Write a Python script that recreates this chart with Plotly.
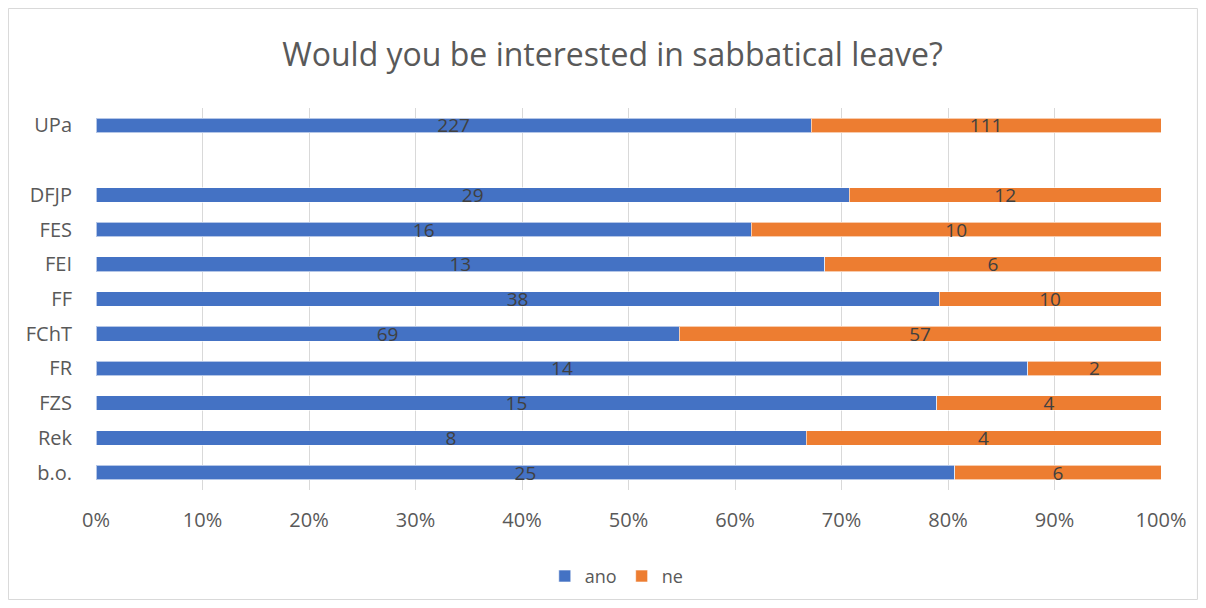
import plotly.graph_objects as go

# categories top to bottom, blank row between UPa and the faculties
categories = ["UPa", " ", "DFJP", "FES", "FEI", "FF", "FChT", "FR", "FZS", "Rek", "b.o."]
ano = [227, None, 29, 16, 13, 38, 69, 14, 15, 8, 25]
ne = [111, None, 12, 10, 6, 10, 57, 2, 4, 4, 6]
x_ticks = [0, 10, 20, 30, 40, 50, 60, 70, 80, 90, 100]

FONT = "Open Sans"

fig = go.Figure()

for name, vals, color in [("ano", ano, "#4472C4"), ("ne", ne, "#ED7D31")]:
    fig.add_trace(go.Bar(
        y=categories,
        x=vals,
        name=name,
        orientation="h",
        marker=dict(color=color, line=dict(color="rgba(255,255,255,0.6)", width=1)),
        text=["" if v is None else str(v) for v in vals],
        textposition="inside",
        insidetextanchor="middle",
        textfont=dict(family=FONT, size=19, color="#404040"),
        textangle=0,
        constraintext="none",
        hoverinfo="skip",
    ))

# page body has an 8px margin, so the figure is a bit smaller than the window
fig.update_layout(
    barmode="stack",
    barnorm="percent",
    bargap=0.58,
    width=1190,
    height=592,
    paper_bgcolor="white",
    plot_bgcolor="white",
    margin=dict(l=88, r=37, t=100, b=110, autoexpand=False),
    title=dict(
        text="Would you be interested in sabbatical leave?",
        x=0.508, xanchor="center", y=0.921, yanchor="middle",
        font=dict(family=FONT, size=32, color="#595959"),
    ),
    font=dict(family=FONT, color="#595959"),
    legend=dict(
        orientation="h", x=0.489, xanchor="center",
        yref="container", y=0.040, yanchor="middle",
        font=dict(family=FONT, size=18, color="#595959"),
        traceorder="normal",
        itemwidth=30,
    ),
    uniformtext=dict(minsize=10, mode="show"),
    shapes=[dict(
        type="rect", xref="paper", yref="paper",
        x0=-0.0822, x1=1.0342, y0=-0.2867, y1=1.2605,
        line=dict(color="#d9d9d9", width=1), fillcolor="rgba(0,0,0,0)",
        layer="below",
    )],
)

fig.update_xaxes(
    range=[0, 100],
    tickvals=x_ticks,
    ticktext=[f"{t}%" for t in x_ticks],
    showgrid=True,
    gridcolor="#d9d9d9",
    gridwidth=1,
    zeroline=False,
    ticks="outside",
    ticklen=12,
    tickcolor="rgba(0,0,0,0)",
    tickfont=dict(family=FONT, size=20, color="#595959"),
    showline=False,
)

fig.update_yaxes(
    categoryorder="array",
    categoryarray=categories,
    autorange="reversed",
    showgrid=False,
    ticks="outside",
    ticklen=19,
    tickcolor="rgba(0,0,0,0)",
    tickfont=dict(family=FONT, size=20, color="#595959"),
    showline=False,
)

fig.write_html("out.html")
